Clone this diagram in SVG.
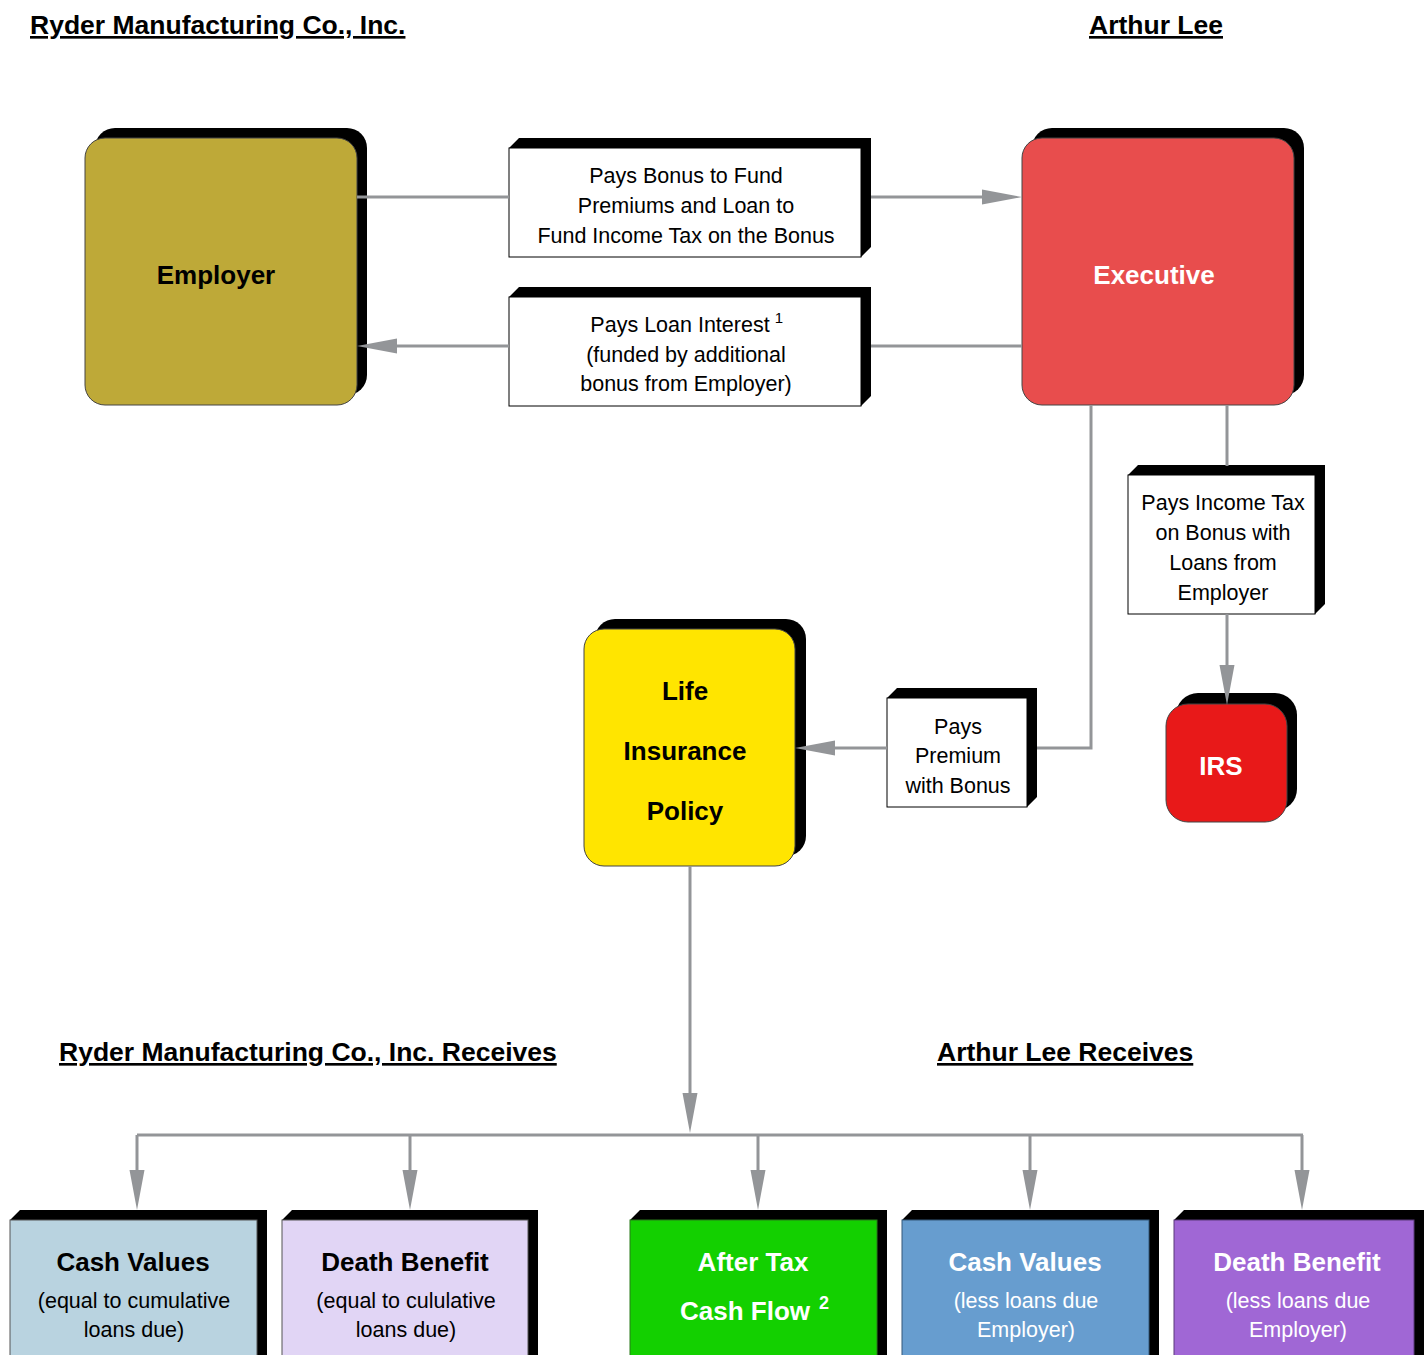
<svg xmlns="http://www.w3.org/2000/svg" width="1424" height="1355" viewBox="0 0 1424 1355">
<style>
text{font-family:"Liberation Sans",Arial,sans-serif;text-anchor:middle}
.title{font-size:26.5px;font-weight:bold;text-decoration:underline;text-anchor:start;fill:#000}
.big{font-size:26px;font-weight:bold}
.lbl{font-size:21.5px;fill:#000}
.sup{font-size:15px}
.bsup{font-size:18px;font-weight:bold}
.w{fill:#fff}
.k{fill:#000}
.sh{fill:#000}
.front{stroke:#444;stroke-width:1}
.lbox{fill:#fff;stroke:#000;stroke-width:1}
.conn{fill:none;stroke:#939598;stroke-width:3}
</style>
<defs>
<marker id="ah" markerUnits="userSpaceOnUse" markerWidth="40" markerHeight="16" viewBox="0 0 40 16" refX="2" refY="8" orient="auto">
<path d="M0,0.5 L40,8 L0,15.5 z" fill="#939598"/>
</marker>
</defs>

<text class="title" x="30" y="34">Ryder Manufacturing Co., Inc.</text>
<text class="title" x="1089" y="34">Arthur Lee</text>
<text class="title" x="59" y="1061">Ryder Manufacturing Co., Inc. Receives</text>
<text class="title" x="937" y="1061">Arthur Lee Receives</text>

<g id="employer">
<rect class="sh" x="95" y="128" width="272" height="267" rx="20"/>
<rect class="front" x="85" y="138" width="272" height="267" rx="20" fill="#BEA938"/>
<text class="big k" x="216" y="284">Employer</text>
</g>

<g id="executive">
<rect class="sh" x="1032" y="128" width="272" height="267" rx="20"/>
<rect class="front" x="1022" y="138" width="272" height="267" rx="20" fill="#E84D4D"/>
<text class="big w" x="1154" y="284">Executive</text>
</g>

<g id="label-bonus">
<polygon class="sh" points="509,148 519,138 871,138 871,247 861,257 861,148"/>
<rect class="lbox" x="509" y="148" width="352" height="109"/>
<text class="lbl" x="686" y="183">Pays Bonus to Fund</text>
<text class="lbl" x="686" y="213">Premiums and Loan to</text>
<text class="lbl" x="686" y="243">Fund Income Tax on the Bonus</text>
</g>

<g id="label-interest">
<polygon class="sh" points="509,297 519,287 871,287 871,396 861,406 861,297"/>
<rect class="lbox" x="509" y="297" width="352" height="109"/>
<text class="lbl" x="680" y="332">Pays Loan Interest</text>
<text class="lbl sup" x="779" y="323">1</text>
<text class="lbl" x="686" y="362">(funded by additional</text>
<text class="lbl" x="686" y="391">bonus from Employer)</text>
</g>

<g id="label-incometax">
<polygon class="sh" points="1128,475 1138,465 1325,465 1325,604 1315,614 1315,475"/>
<rect class="lbox" x="1128" y="475" width="187" height="139"/>
<text class="lbl" x="1223" y="510">Pays Income Tax</text>
<text class="lbl" x="1223" y="540">on Bonus with</text>
<text class="lbl" x="1223" y="570">Loans from</text>
<text class="lbl" x="1223" y="600">Employer</text>
</g>

<g id="irs">
<rect class="sh" x="1176" y="693" width="121" height="118" rx="22"/>
<rect class="front" x="1166" y="704" width="121" height="118" rx="22" fill="#E81919"/>
<text class="big w" x="1221" y="775">IRS</text>
</g>

<g id="life-policy">
<rect class="sh" x="595" y="619" width="211" height="237" rx="20"/>
<rect class="front" x="584" y="629" width="211" height="237" rx="20" fill="#FFE500"/>
<text class="big k" x="685" y="700">Life</text>
<text class="big k" x="685" y="760">Insurance</text>
<text class="big k" x="685" y="820">Policy</text>
</g>

<g id="label-premium">
<polygon class="sh" points="887,698 897,688 1037,688 1037,797 1027,807 1027,698"/>
<rect class="lbox" x="887" y="698" width="140" height="109"/>
<text class="lbl" x="958" y="734">Pays</text>
<text class="lbl" x="958" y="763">Premium</text>
<text class="lbl" x="958" y="793">with Bonus</text>
</g>

<g id="ryder-cash-values">
<polygon class="sh" points="10,1220 20,1210 267,1210 267,1355 257,1355 257,1220"/>
<rect x="10" y="1220" width="247" height="140" fill="#B9D3E0" stroke="#555" stroke-width="1"/>
<text class="big k" x="133" y="1271">Cash Values</text>
<text class="lbl" x="134" y="1308">(equal to cumulative</text>
<text class="lbl" x="134" y="1337">loans due)</text>
</g>

<g id="ryder-death-benefit">
<polygon class="sh" points="282,1220 292,1210 538,1210 538,1355 528,1355 528,1220"/>
<rect x="282" y="1220" width="246" height="140" fill="#E1D5F5" stroke="#555" stroke-width="1"/>
<text class="big k" x="405" y="1271">Death Benefit</text>
<text class="lbl" x="406" y="1308">(equal to cululative</text>
<text class="lbl" x="406" y="1337">loans due)</text>
</g>

<g id="after-tax-cash-flow">
<polygon class="sh" points="630,1220 640,1210 887,1210 887,1355 877,1355 877,1220"/>
<rect x="630" y="1220" width="247" height="140" fill="#13D000" stroke="#2a7a1a" stroke-width="1"/>
<text class="big w" x="753" y="1271">After Tax</text>
<text class="big w" x="745" y="1320">Cash Flow</text>
<text class="bsup w" x="824" y="1309">2</text>
</g>

<g id="lee-cash-values">
<polygon class="sh" points="902,1220 912,1210 1159,1210 1159,1355 1149,1355 1149,1220"/>
<rect x="902" y="1220" width="247" height="140" fill="#679DCF" stroke="#35587a" stroke-width="1"/>
<text class="big w" x="1025" y="1271">Cash Values</text>
<text class="lbl w" x="1026" y="1308">(less loans due</text>
<text class="lbl w" x="1026" y="1337">Employer)</text>
</g>

<g id="lee-death-benefit">
<polygon class="sh" points="1174,1220 1184,1210 1424,1210 1424,1355 1414,1355 1414,1220"/>
<rect x="1174" y="1220" width="240" height="140" fill="#A067D5" stroke="#5a3a7a" stroke-width="1"/>
<text class="big w" x="1297" y="1271">Death Benefit</text>
<text class="lbl w" x="1298" y="1308">(less loans due</text>
<text class="lbl w" x="1298" y="1337">Employer)</text>
</g>

<g id="connectors">
<path class="conn" d="M357,197 H509"/>
<path class="conn" d="M871,197 H984" marker-end="url(#ah)"/>
<path class="conn" d="M1022,346 H871"/>
<path class="conn" d="M509,346 H395" marker-end="url(#ah)"/>
<path class="conn" d="M1091,405 V748 H1037"/>
<path class="conn" d="M887,748 H833" marker-end="url(#ah)"/>
<path class="conn" d="M1227,405 V466"/>
<path class="conn" d="M1227,614 V667" marker-end="url(#ah)"/>
<path class="conn" d="M690,866 V1095" marker-end="url(#ah)"/>
<path class="conn" d="M137,1135 H1303"/>
<path class="conn" d="M137,1135 V1172" marker-end="url(#ah)"/>
<path class="conn" d="M410,1135 V1172" marker-end="url(#ah)"/>
<path class="conn" d="M758,1135 V1172" marker-end="url(#ah)"/>
<path class="conn" d="M1030,1135 V1172" marker-end="url(#ah)"/>
<path class="conn" d="M1302,1135 V1172" marker-end="url(#ah)"/>
</g>
</svg>
